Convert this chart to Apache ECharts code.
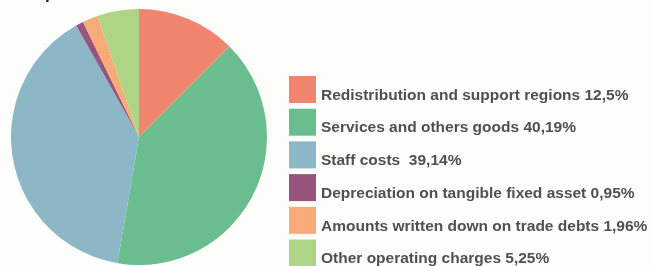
<!DOCTYPE html>
<html>
<head>
<meta charset="utf-8">
<script src="https://cdn.jsdelivr.net/npm/echarts@6/dist/echarts.min.js"></script>
<style>
  html, body { margin: 0; padding: 0; background: #fdfdfb; }
  #chart { width: 652px; height: 266px; }
</style>
</head>
<body>
<div id="chart"></div>
<script>
// cost categories, clockwise from 12 o'clock
var names = [
  'Redistribution and support regions',
  'Services and others goods',
  'Staff costs ',
  'Depreciation on tangible fixed asset',
  'Amounts written down on trade debts',
  'Other operating charges'
];
var values = [12.5, 40.19, 39.14, 0.95, 1.96, 5.25];
var pctLabels = ['12,5%', '40,19%', '39,14%', '0,95%', '1,96%', '5,25%'];
var colors = ['#f0866f', '#6abd8f', '#8cb7c7', '#98547a', '#f6ab79', '#aed586'];

var chart = echarts.init(document.getElementById('chart'));

var pieData = [];
for (var i = 0; i < names.length; i++) {
  pieData.push({ name: names[i], value: values[i] });
}

var option = {
  backgroundColor: '#fdfdfb',
  color: colors,
  animation: false,
  // cut-off title above the chart, only a descender shows
  graphic: [{
    type: 'text',
    left: 45,
    top: -14,
    style: { text: 'p', font: 'bold 17px Liberation Sans, Arial, sans-serif', fill: '#222' }
  }],
  legend: {
    orient: 'vertical',
    left: 289,
    top: 76,
    height: 230,
    padding: 0,
    itemWidth: 27,
    itemHeight: 27,
    itemGap: 5.2,
    icon: 'rect',
    selectedMode: false,
    formatter: function (name) {
      var idx = names.indexOf(name);
      return '{t|' + name + ' ' + pctLabels[idx] + '}';
    },
    textStyle: {
      rich: {
        t: {
          fontFamily: 'Liberation Sans, Arial, sans-serif',
          fontSize: 15.5,
          fontWeight: 'bold',
          color: '#505050',
          padding: [12, 0, 0, 0]
        }
      }
    }
  },
  series: [{
    type: 'pie',
    center: [139, 137],
    radius: [0, 128],
    startAngle: 90,
    clockwise: true,
    label: { show: false },
    labelLine: { show: false },
    itemStyle: { borderWidth: 0 },
    emphasis: { disabled: true },
    data: pieData
  }]
};

chart.setOption(option);
</script>
</body>
</html>
